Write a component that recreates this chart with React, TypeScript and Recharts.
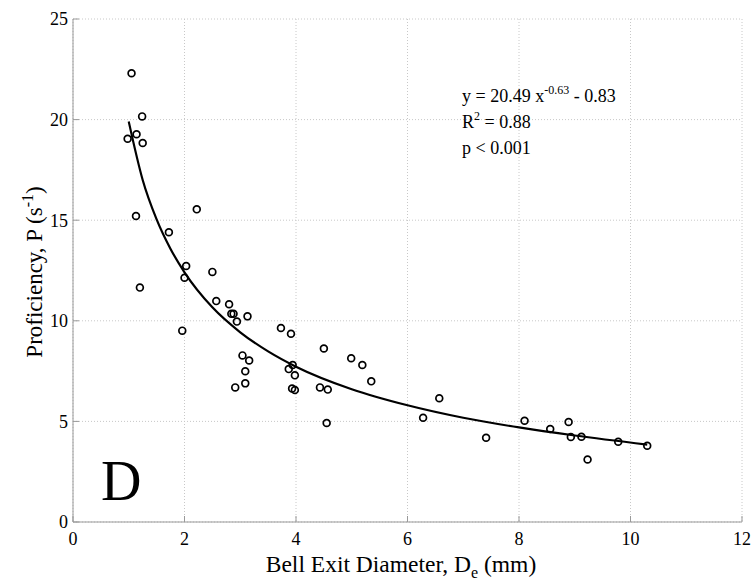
import React from "react";
import { ComposedChart, Scatter, Line, XAxis, YAxis, CartesianGrid } from "recharts";

// bell exit diameter (mm) and proficiency (1/s), one entry per specimen
const diameters = [
  1.05, 1.24, 0.98, 1.14, 1.25, 2.22, 1.72, 2.03, 2.0, 2.5, 2.57, 2.8, 2.84, 2.88, 3.13, 2.94, 1.96,
  3.73, 3.91, 4.5, 4.99, 5.19, 5.35, 3.04, 3.16, 3.09, 3.09, 2.91, 3.94, 3.87, 3.98, 3.93, 3.98,
  4.43, 4.57, 4.55, 6.57, 6.28, 7.41, 8.1, 8.56, 8.89, 8.93, 9.12, 9.23, 9.78, 10.3, 1.13, 1.2,
];
const proficiency = [
  22.3, 20.16, 19.05, 19.27, 18.84, 15.54, 14.4, 12.72, 12.14, 12.43, 10.98, 10.82, 10.35, 10.35,
  10.22, 9.96, 9.51, 9.64, 9.36, 8.62, 8.14, 7.8, 6.99, 8.28, 8.03, 7.49, 6.89, 6.69, 7.8, 7.6, 7.29,
  6.63, 6.56, 6.69, 6.58, 4.92, 6.15, 5.18, 4.19, 5.03, 4.62, 4.97, 4.23, 4.24, 3.11, 3.99, 3.79,
  15.21, 11.65,
];

// power-law fit line
const fitX = [1, 1.25, 1.5, 1.75, 2, 2.5, 3, 3.5, 4, 5, 6, 7, 8, 9, 10.3];
const fitY = [19.9, 17.0, 15.04, 13.57, 12.41, 10.67, 9.43, 8.48, 7.72, 6.6, 5.8, 5.18, 4.7, 4.3, 3.85];

const xTicks = [0, 2, 4, 6, 8, 10, 12];
const yTicks = [0, 5, 10, 15, 20, 25];

const points = diameters.map((x, i) => ({ x, y: proficiency[i] }));
const fit = fitX.map((x, i) => ({ x, y: fitY[i] }));

const FONT = '"Liberation Serif", "Times New Roman", serif';
const AXIS = "#999";

const OpenCircle = (props: any) => {
  const { cx, cy } = props;
  if (cx == null || cy == null) return null;
  return <circle cx={cx} cy={cy} r={3.4} fill="none" stroke="#000" strokeWidth={1.7} />;
};

const tickStyle = { fill: "#000", fontSize: 18, fontFamily: FONT };

export default function App() {
  return (
    <div style={{ position: "absolute", left: 0, top: 0, width: 755, height: 585, background: "#fff" }}>
      <ComposedChart width={755} height={585} margin={{ top: 19, right: 13, bottom: 23, left: 13 }}>
        <CartesianGrid stroke="#c8c8c8" strokeDasharray="1 2" />
        <XAxis
          dataKey="x"
          type="number"
          domain={[0, 12]}
          ticks={xTicks}
          height={40}
          stroke={AXIS}
          tickSize={-6}
          tickMargin={16}
          tick={tickStyle}
        />
        <XAxis
          xAxisId="top"
          orientation="top"
          type="number"
          domain={[0, 12]}
          ticks={xTicks}
          allowDataOverflow
          height={0}
          stroke={AXIS}
          tickSize={-6}
          tick={false}
        />
        <YAxis
          dataKey="y"
          type="number"
          domain={[0, 25]}
          ticks={yTicks}
          width={60}
          stroke={AXIS}
          tickSize={-6}
          tickMargin={11}
          tick={tickStyle}
        />
        <YAxis
          yAxisId="right"
          orientation="right"
          type="number"
          domain={[0, 25]}
          ticks={yTicks}
          allowDataOverflow
          width={0}
          stroke={AXIS}
          tickSize={-6}
          tick={false}
        />
        <Scatter data={points} dataKey="y" shape={OpenCircle} isAnimationActive={false} />
        <Line data={fit} dataKey="y" type="monotone" stroke="#000" strokeWidth={2.2} dot={false} isAnimationActive={false} />
      </ComposedChart>

      <svg width={755} height={585} style={{ position: "absolute", left: 0, top: 0, pointerEvents: "none" }} fontFamily={FONT}>
        <text x={462} y={102} fontSize={18}>
          y = 20.49 x<tspan dy={-8} fontSize={12}>-0.63</tspan>
          <tspan dy={8}> - 0.83</tspan>
        </text>
        <text x={462} y={128} fontSize={18}>
          R<tspan dy={-8} fontSize={12}>2</tspan>
          <tspan dy={8}> = 0.88</tspan>
        </text>
        <text x={462} y={154} fontSize={18}>p &lt; 0.001</text>

        <text x={101} y={500} fontSize={56}>D</text>

        <text x={401} y={572} fontSize={23.5} textAnchor="middle">
          Bell Exit Diameter, D<tspan dy={6} fontSize={16}>e</tspan>
          <tspan dy={-6}> (mm)</tspan>
        </text>
        <text transform="translate(42,272) rotate(-90)" fontSize={23} textAnchor="middle">
          Proficiency, P (s<tspan dy={-9} fontSize={16}>-1</tspan>
          <tspan dy={9}>)</tspan>
        </text>
      </svg>
    </div>
  );
}
